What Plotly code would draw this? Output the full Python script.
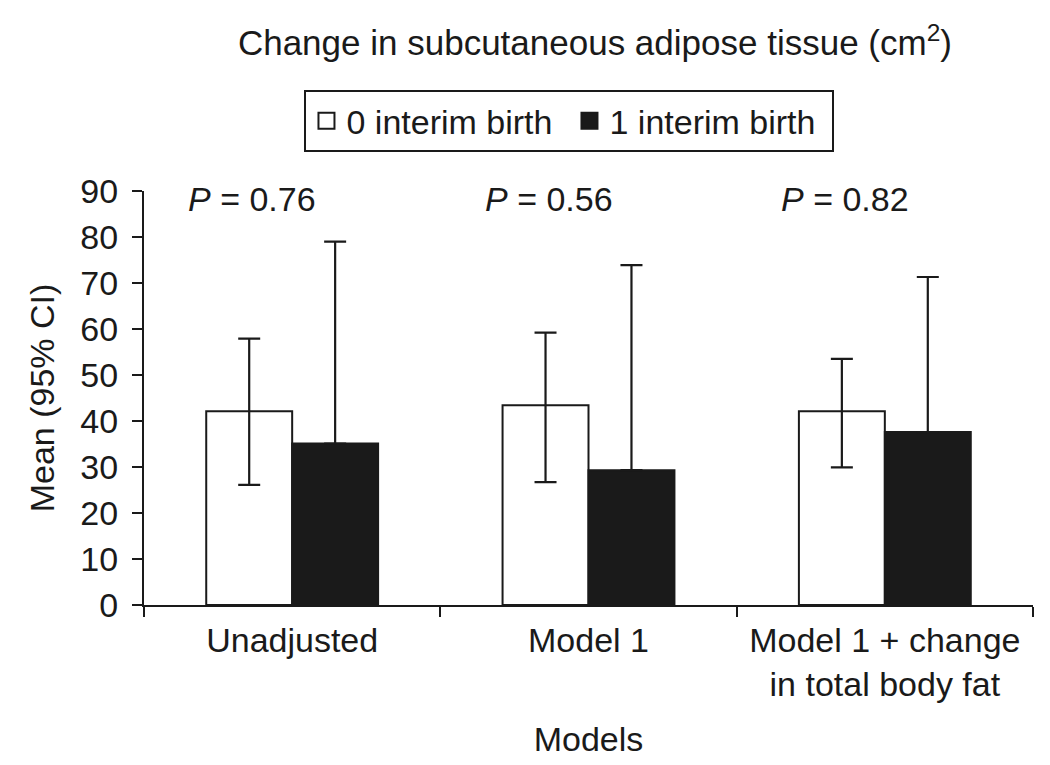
import plotly.graph_objects as go

categories = ["Unadjusted", "Model 1", "Model 1 + change<br>in total body fat"]
series_names = ["0 interim birth", "1 interim birth"]
mean_zero = [42.1, 43.4, 42.1]
ci_upper_zero = [57.9, 59.2, 53.5]
ci_lower_zero = [26.1, 26.7, 29.9]
mean_one = [35.1, 29.3, 37.6]
ci_upper_one = [79.0, 73.9, 71.3]
p_labels = ["<i>P</i> = 0.76", "<i>P</i> = 0.56", "<i>P</i> = 0.82"]
y_ticks = [0, 10, 20, 30, 40, 50, 60, 70, 80, 90]

FONT = "Liberation Sans, Arial, Helvetica, sans-serif"
BLACK = "#1a1a1a"
FS = 34

fig = go.Figure()
fig.add_trace(go.Bar(
    x=categories, y=mean_zero, name=series_names[0], showlegend=False,
    marker=dict(color="white", line=dict(color=BLACK, width=2)),
    error_y=dict(type="data", symmetric=False,
                 array=[u - m for u, m in zip(ci_upper_zero, mean_zero)],
                 arrayminus=[m - l for m, l in zip(mean_zero, ci_lower_zero)],
                 color=BLACK, thickness=2.2, width=11),
))
fig.add_trace(go.Bar(
    x=categories, y=mean_one, name=series_names[1], showlegend=False,
    marker=dict(color=BLACK, line=dict(color=BLACK, width=2)),
    error_y=dict(type="data", symmetric=False,
                 array=[u - m for u, m in zip(ci_upper_one, mean_one)],
                 arrayminus=[0 for _ in mean_one],
                 color=BLACK, thickness=2.2, width=11),
))
# legend-only entries (no data drawn)
for name, fill in zip(series_names, ["white", BLACK]):
    fig.add_trace(go.Scatter(
        x=[None], y=[None], mode="markers", name=name,
        marker=dict(symbol="square", size=16, color=fill, line=dict(color=BLACK, width=2)),
    ))

for cat, lab in zip(categories, p_labels):
    fig.add_annotation(x=cat, y=88.3, xref="x", yref="y", text=lab,
                       showarrow=False, xshift=-40, yanchor="middle",
                       font=dict(size=FS, color=BLACK, family=FONT))

fig.update_layout(
    width=1050, height=765,
    paper_bgcolor="white", plot_bgcolor="white",
    margin=dict(l=136, r=25, t=183, b=168, autoexpand=False),
    barmode="group", bargap=0.42, bargroupgap=0,
    font=dict(family=FONT, size=FS, color=BLACK),
    title=dict(text="Change in subcutaneous adipose tissue (cm<sup>2</sup>)",
               x=0.559, xanchor="center", y=0.954, yanchor="middle",
               font=dict(size=35, color=BLACK, family=FONT)),
    legend=dict(orientation="h", x=0.4786, xanchor="center", y=1.169, yanchor="middle",
                bordercolor=BLACK, borderwidth=2, bgcolor="white",
                font=dict(size=FS, color=BLACK, family=FONT),
                itemwidth=30, entrywidth=218, traceorder="normal"),
    showlegend=True,
)
fig.update_xaxes(
    showline=True, linecolor=BLACK, linewidth=2, automargin=False,
    ticks="outside", tickson="boundaries", ticklen=10, tickwidth=2, tickcolor=BLACK,
    range=[-0.5, 2.5], showgrid=False, zeroline=False,
    tickfont=dict(size=FS, color=BLACK, family=FONT),
    ticklabelstandoff=4,
    title=dict(text="Models", font=dict(size=FS, color=BLACK, family=FONT), standoff=25),
)
fig.update_yaxes(
    showline=True, linecolor=BLACK, linewidth=2, automargin=False,
    ticks="outside", ticklen=10, tickwidth=2, tickcolor=BLACK,
    range=[0, 90], tickvals=y_ticks, showgrid=False, zeroline=False,
    tickfont=dict(size=FS, color=BLACK, family=FONT),
    ticklabelstandoff=7,
    title=dict(text="Mean (95% CI)", font=dict(size=FS, color=BLACK, family=FONT), standoff=15),
)

fig.write_html("out.html")
